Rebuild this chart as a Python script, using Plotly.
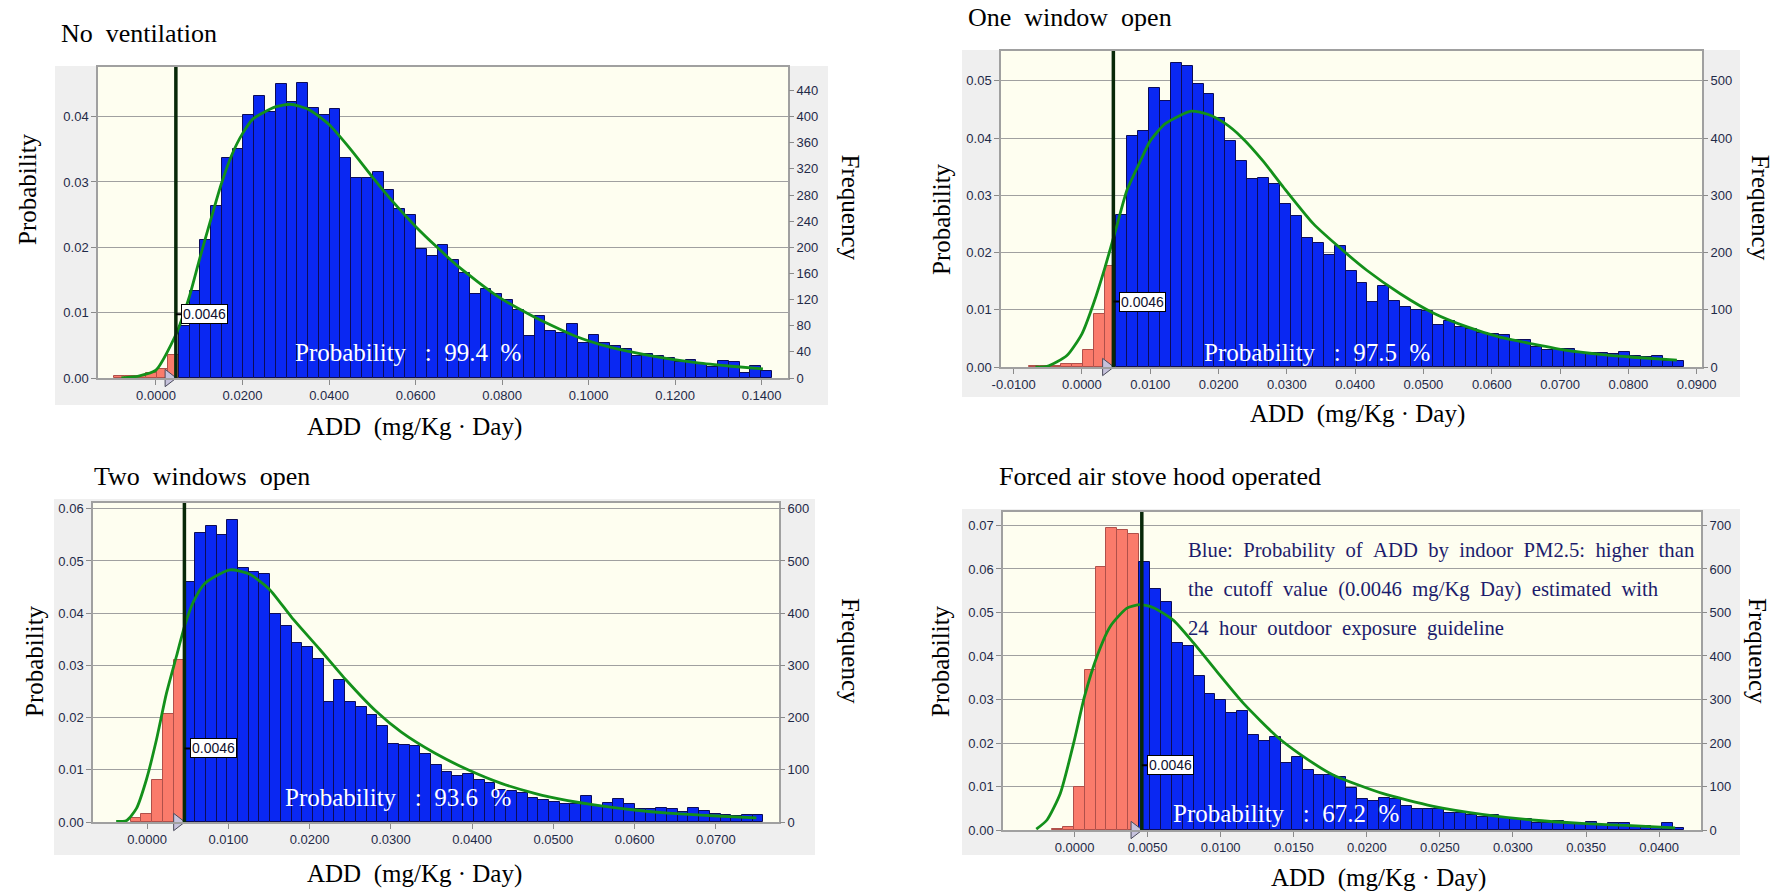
import plotly.graph_objects as go

W, H = 1778, 895
CUTOFF = 0.0046
CUTOFF_TEXT = "0.0046"
NB = "\u00a0"

# ---------------- data ----------------
titles = ["No" + NB * 2 + "ventilation", "One" + NB * 2 + "window" + NB * 2 + "open",
          "Two" + NB * 2 + "windows" + NB * 2 + "open", "Forced air stove hood operated"]
prob_above = ["99.4", "97.5", "93.6", "67.2"]

# Panel 1: No ventilation
p1_bin_start, p1_bin_width = -0.0097, 0.002493
p1_prob = [0.0003, 0.0003, 0.0003, 0.0007, 0.0014, 0.0035,
           0.0079, 0.0133, 0.0211, 0.0263, 0.0336, 0.0350, 0.0402, 0.0432, 0.0407, 0.0450,
           0.0422, 0.0452, 0.0413, 0.0403, 0.0411, 0.0337, 0.0306, 0.0306, 0.0315, 0.0287,
           0.0258, 0.0250, 0.0197, 0.0187, 0.0203, 0.0180, 0.0160, 0.0128, 0.0136, 0.0129,
           0.0119, 0.0104, 0.0065, 0.0095, 0.0072, 0.0069, 0.0083, 0.0054, 0.0066, 0.0053,
           0.0049, 0.0044, 0.0034, 0.0036, 0.0033, 0.0031, 0.0024, 0.0027, 0.0022, 0.0017,
           0.0026, 0.0024, 0.0008, 0.0018, 0.0011]
p1_curve_x = [-0.0080, -0.0040, 0.0000, 0.0045, 0.0077, 0.0102, 0.0126, 0.0151, 0.0175, 0.0200,
              0.0225, 0.0276, 0.0311, 0.0353, 0.0400, 0.0450, 0.0500, 0.0550, 0.0600, 0.0650,
              0.0700, 0.0790, 0.0870, 0.0970, 0.1045, 0.1145, 0.1253, 0.1330, 0.1403]
p1_curve_y = [0.0000, 0.0003, 0.0012, 0.0065, 0.0124, 0.0185, 0.0241, 0.0297, 0.0341, 0.0374,
              0.0397, 0.0415, 0.0419, 0.0411, 0.0388, 0.0350, 0.0308, 0.0268, 0.0232, 0.0200,
              0.0170, 0.0125, 0.0095, 0.0064, 0.0048, 0.0034, 0.0023, 0.0018, 0.0014]
p1_xtick_vals = [0.00, 0.02, 0.04, 0.06, 0.08, 0.10, 0.12, 0.14]
p1_xtick_text = ["0.0000", "0.0200", "0.0400", "0.0600", "0.0800", "0.1000", "0.1200", "0.1400"]

# Panel 2: One window open
p2_bin_start, p2_bin_width = -0.0078, 0.0016
p2_prob = [0.0002, 0.0001, 0.0001, 0.0005, 0.0006, 0.0030, 0.0093, 0.0177,
           0.0266, 0.0403, 0.0412, 0.0488, 0.0464, 0.0531, 0.0525, 0.0494, 0.0477, 0.0435,
           0.0394, 0.0359, 0.0329, 0.0331, 0.0319, 0.0285, 0.0263, 0.0226, 0.0216, 0.0195,
           0.0211, 0.0168, 0.0147, 0.0113, 0.0141, 0.0115, 0.0105, 0.0099, 0.0098, 0.0074,
           0.0080, 0.0070, 0.0066, 0.0059, 0.0058, 0.0056, 0.0048, 0.0048, 0.0035, 0.0029,
           0.0032, 0.0032, 0.0025, 0.0025, 0.0025, 0.0022, 0.0026, 0.0020, 0.0017, 0.0020,
           0.0010, 0.0010]
p2_curve_x = [-0.0068, -0.0051, -0.0022, 0.0000, 0.0017, 0.0034, 0.0050, 0.0066, 0.0086, 0.0100,
              0.0122, 0.0160, 0.0185, 0.0210, 0.0234, 0.0265, 0.0295, 0.0339, 0.0373, 0.0417,
              0.0466, 0.0515, 0.0564, 0.0612, 0.0661, 0.0710, 0.0759, 0.0807, 0.0871]
p2_curve_y = [0.0000, 0.0001, 0.0020, 0.0058, 0.0111, 0.0175, 0.0242, 0.0309, 0.0361, 0.0395,
              0.0425, 0.0447, 0.0441, 0.0425, 0.0401, 0.0360, 0.0314, 0.0250, 0.0213, 0.0169,
              0.0128, 0.0094, 0.0070, 0.0052, 0.0040, 0.0029, 0.0022, 0.0017, 0.0012]
p2_xtick_vals = [-0.01, 0.00, 0.01, 0.02, 0.03, 0.04, 0.05, 0.06, 0.07, 0.08, 0.09]
p2_xtick_text = ["-0.0100", "0.0000", "0.0100", "0.0200", "0.0300", "0.0400", "0.0500",
                 "0.0600", "0.0700", "0.0800", "0.0900"]

# Panel 3: Two windows open
p3_bin_start, p3_bin_width = -0.00201, 0.00132
p3_prob = [0.0008, 0.0016, 0.0080, 0.0206, 0.0310,
           0.0459, 0.0553, 0.0566, 0.0550, 0.0579, 0.0487, 0.0478, 0.0475, 0.0398, 0.0376,
           0.0342, 0.0336, 0.0312, 0.0229, 0.0272, 0.0229, 0.0221, 0.0205, 0.0184, 0.0149,
           0.0147, 0.0146, 0.0131, 0.0109, 0.0096, 0.0088, 0.0091, 0.0080, 0.0075, 0.0061,
           0.0059, 0.0056, 0.0046, 0.0043, 0.0038, 0.0035, 0.0035, 0.0050, 0.0030, 0.0037,
           0.0045, 0.0034, 0.0024, 0.0024, 0.0027, 0.0024, 0.0020, 0.0027, 0.0021, 0.0016,
           0.0014, 0.0012, 0.0014, 0.0014]
p3_curve_x = [-0.0038, -0.0025, -0.0013, -0.0001, 0.00115, 0.00238, 0.00361, 0.00464, 0.00566,
              0.0071, 0.0102, 0.0126, 0.0151, 0.0178, 0.0213, 0.0245, 0.0282, 0.0313, 0.0354,
              0.0395, 0.0436, 0.0477, 0.0518, 0.0559, 0.0600, 0.0641, 0.0682, 0.0723, 0.0750]
p3_curve_y = [0.0001, 0.0003, 0.0026, 0.0080, 0.0157, 0.0246, 0.0317, 0.0376, 0.0420,
              0.0457, 0.0483, 0.0475, 0.0445, 0.0392, 0.0330, 0.0272, 0.0212, 0.0172, 0.0132,
              0.0100, 0.0074, 0.0055, 0.0041, 0.0031, 0.0023, 0.0017, 0.0013, 0.0010, 0.0008]
p3_xtick_vals = [0.00, 0.01, 0.02, 0.03, 0.04, 0.05, 0.06, 0.07]
p3_xtick_text = ["0.0000", "0.0100", "0.0200", "0.0300", "0.0400", "0.0500", "0.0600", "0.0700"]

# Panel 4: Forced air stove hood operated
p4_bin_start, p4_bin_width = -0.00155, 0.000746
p4_prob = [0.0002, 0.0008, 0.0098, 0.0368, 0.0604, 0.0694, 0.0689, 0.0680,
           0.0617, 0.0555, 0.0524, 0.0429, 0.0424, 0.0355, 0.0313, 0.0299, 0.0268, 0.0273,
           0.0219, 0.0205, 0.0213, 0.0153, 0.0168, 0.0138, 0.0127, 0.0127, 0.0121, 0.0096,
           0.0071, 0.0067, 0.0073, 0.0071, 0.0056, 0.0048, 0.0048, 0.0049, 0.0040, 0.0038,
           0.0035, 0.0031, 0.0035, 0.0027, 0.0025, 0.0025, 0.0015, 0.0015, 0.0021, 0.0015,
           0.0014, 0.0018, 0.0012, 0.0015, 0.0015, 0.0009, 0.0009, 0.0008, 0.0015, 0.0004]
p4_curve_x = [-0.00262, -0.00189, -0.00098, -0.00007, 0.00068, 0.00153, 0.00244, 0.00358,
              0.00449, 0.0054, 0.00677, 0.00814, 0.00974, 0.01156, 0.01384, 0.01544, 0.01766,
              0.02107, 0.02448, 0.02789, 0.0313, 0.0347, 0.0381, 0.0411]
p4_curve_y = [0.0002, 0.0023, 0.0084, 0.0199, 0.0307, 0.0399, 0.0468, 0.0510, 0.0518, 0.0511,
              0.0482, 0.0430, 0.0364, 0.0291, 0.0215, 0.0174, 0.0127, 0.0084, 0.0055, 0.0036,
              0.0023, 0.0015, 0.0010, 0.0005]
p4_xtick_vals = [0.000, 0.005, 0.010, 0.015, 0.020, 0.025, 0.030, 0.035, 0.040]
p4_xtick_text = ["0.0000", "0.0050", "0.0100", "0.0150", "0.0200", "0.0250", "0.0300",
                 "0.0350", "0.0400"]

note_lines = ["Blue:" + NB * 2 + "Probability" + NB * 2 + "of" + NB * 2 + "ADD" + NB * 2 + "by" + NB * 2
              + "indoor" + NB * 2 + "PM2.5:" + NB * 2 + "higher" + NB * 2 + "than",
              "the" + NB * 2 + "cutoff" + NB * 2 + "value" + NB * 2 + "(0.0046" + NB * 2 + "mg/Kg" + NB * 2
              + "Day)" + NB * 2 + "estimated" + NB * 2 + "with",
              "24" + NB * 2 + "hour" + NB * 2 + "outdoor" + NB * 2 + "exposure" + NB * 2 + "guideline"]

FREQ_PER_PROB = 10000  # trials

# ---------------- layout (pixel geometry) ----------------
panels = [
    dict(bins=(p1_bin_start, p1_bin_width, p1_prob), curve=(p1_curve_x, p1_curve_y),
         xt=(p1_xtick_vals, p1_xtick_text), plot=(98, 67, 788, 378), gray=(55, 66, 828, 405),
         xr=(-0.0134, 0.1461), ymax=0.0476, fd=40, title=(59, 34), ylab=(27, 189),
         flab=(850, 207.5), xlab=(414, 427), ptxt=(293, 352), lab_y=0.00975),
    dict(bins=(p2_bin_start, p2_bin_width, p2_prob), curve=(p2_curve_x, p2_curve_y),
         xt=(p2_xtick_vals, p2_xtick_text), plot=(1001, 51, 1702, 367), gray=(962, 50, 1740, 397),
         xr=(-0.01185, 0.09078), ymax=0.0552, fd=100, title=(966, 18), ylab=(941, 219),
         flab=(1760, 207.7), xlab=(1357, 414), ptxt=(1201.7, 352), lab_y=0.01143),
    dict(bins=(p3_bin_start, p3_bin_width, p3_prob), curve=(p3_curve_x, p3_curve_y),
         xt=(p3_xtick_vals, p3_xtick_text), plot=(93, 503, 779, 822), gray=(54, 499, 815, 855),
         xr=(-0.00665, 0.07778), ymax=0.0611, fd=100, title=(91.7, 476.5), ylab=(34, 661),
         flab=(851, 651), xlab=(414, 873.5), ptxt=(283.3, 797), lab_y=0.0141),
    dict(bins=(p4_bin_start, p4_bin_width, p4_prob), curve=(p4_curve_x, p4_curve_y),
         xt=(p4_xtick_vals, p4_xtick_text), plot=(1003, 512, 1701, 830), gray=(962, 509, 1740, 855),
         xr=(-0.0049, 0.04287), ymax=0.0731, fd=100, title=(996.7, 476.5), ylab=(940, 661),
         flab=(1758, 651), xlab=(1378, 877.7), ptxt=(1170.7, 813.5), lab_y=0.01487),
]

SERIF = "Liberation Serif, Times New Roman, serif"
SANS = "Liberation Sans, Arial, sans-serif"
TICKC = "#1f2a48"
BLUE, BLUE_LINE = "#0a28f2", "#0c0c58"
RED, RED_LINE = "#fa7b6b", "#b0504a"
GREEN = "#13901a"
CUT_COLOR = "#082808"
GRID = "#a0a0a0"


def fx(px):
    return px / W


def fy(py):
    return 1 - py / H


fig = go.Figure()
layout = dict(width=W, height=H, margin=dict(l=0, r=0, t=0, b=0, pad=0), paper_bgcolor="white",
              plot_bgcolor="rgba(0,0,0,0)", showlegend=False, barmode="overlay", bargap=0,
              hovermode=False)
shapes, annotations = [], []

for i, p in enumerate(panels):
    n = i + 1
    xa = "x" if n == 1 else f"x{n}"
    ya = "y" if n == 1 else f"y{n}"
    yr = f"y{n + 4}"
    x0p, y0p, x1p, y1p = p["plot"]
    xr = p["xr"]
    ymax = p["ymax"]
    per_px = (xr[1] - xr[0]) / (x1p - x0p)

    # background panels
    g = p["gray"]
    shapes.append(dict(type="rect", xref="paper", yref="paper", x0=fx(g[0]), x1=fx(g[2]),
                       y0=fy(g[3]), y1=fy(g[1]), fillcolor="#efefef", line=dict(width=0),
                       layer="below"))
    shapes.append(dict(type="rect", xref="paper", yref="paper", x0=fx(x0p), x1=fx(x1p),
                       y0=fy(y1p), y1=fy(y0p), fillcolor="#fefef0", line=dict(width=0),
                       layer="below"))

    # histogram bars
    start, width, probs = p["bins"]
    centers = [start + width * (k + 0.5) for k in range(len(probs))]
    red_x = [c for c in centers if c < CUTOFF]
    red_y = [v for c, v in zip(centers, probs) if c < CUTOFF]
    blue_x = [c for c in centers if c >= CUTOFF]
    blue_y = [v for c, v in zip(centers, probs) if c >= CUTOFF]
    fig.add_trace(go.Bar(x=red_x, y=red_y, width=width, xaxis=xa, yaxis=ya,
                         marker=dict(color=RED, line=dict(color=RED_LINE, width=1))))
    fig.add_trace(go.Bar(x=blue_x, y=blue_y, width=width, xaxis=xa, yaxis=ya,
                         marker=dict(color=BLUE, line=dict(color=BLUE_LINE, width=1))))
    # fitted curve
    cx, cy = p["curve"]
    fig.add_trace(go.Scatter(x=cx, y=cy, mode="lines", xaxis=xa, yaxis=ya,
                             line=dict(color=GREEN, width=2.8, shape="spline", smoothing=0.6)))
    # frequency axis carrier (invisible)
    fig.add_trace(go.Scatter(x=[xr[0]], y=[0], mode="markers", xaxis=xa, yaxis=yr,
                             marker=dict(opacity=0), hoverinfo="skip"))
    # grabber triangles
    fig.add_trace(go.Scatter(x=[CUTOFF - 7 * per_px], y=[0], mode="markers", xaxis=xa, yaxis=ya,
                             cliponaxis=False,
                             marker=dict(symbol="triangle-right", size=15, color="#c6c2dc",
                                         line=dict(color="#4a4a5a", width=1))))
    fig.add_trace(go.Scatter(x=[xr[1] + 7.5 * per_px], y=[0], mode="markers", xaxis=xa, yaxis=ya,
                             cliponaxis=False,
                             marker=dict(symbol="triangle-left", size=15, color="#a0a0a0",
                                         line=dict(color="#3a3a3a", width=1))))

    # cutoff line
    shapes.append(dict(type="line", xref=xa, yref=f"{ya} domain", x0=CUTOFF, x1=CUTOFF,
                       y0=0, y1=1, line=dict(color=CUT_COLOR, width=3.5), layer="above"))

    tv, tt = p["xt"]
    axfont = dict(family=SANS, size=13, color=TICKC)
    layout[f"xaxis{'' if n == 1 else n}"] = dict(
        domain=[fx(x0p), fx(x1p)], anchor=ya, range=list(xr), tickvals=tv, ticktext=tt,
        ticks="outside", ticklen=5, tickcolor="#8a8a8a", showline=True, linecolor=GRID,
        linewidth=1.5, mirror=True, showgrid=False, zeroline=False, tickfont=axfont,
        fixedrange=True, automargin=False)
    layout[f"yaxis{'' if n == 1 else n}"] = dict(
        domain=[fy(y1p), fy(y0p)], anchor=xa, range=[0, ymax], dtick=0.01, tick0=0,
        tickformat=".2f", ticks="outside", ticklen=5, tickcolor="#8a8a8a", showline=True,
        linecolor=GRID, linewidth=1.5, mirror=True, showgrid=True, gridcolor=GRID,
        gridwidth=1.2, zeroline=False, tickfont=axfont, fixedrange=True, automargin=False)
    layout[f"yaxis{n + 4}"] = dict(
        overlaying=ya, side="right", anchor=xa, range=[0, ymax * FREQ_PER_PROB],
        dtick=p["fd"], tick0=0, ticks="outside", ticklen=5, tickcolor="#8a8a8a",
        showline=False, showgrid=False, zeroline=False, tickfont=axfont, fixedrange=True,
        automargin=False)

    # texts
    annotations.append(dict(text=titles[i], xref="paper", yref="paper", x=fx(p["title"][0]),
                            y=fy(p["title"][1]), xanchor="left", yanchor="middle",
                            showarrow=False, font=dict(family=SERIF, size=26, color="black")))
    annotations.append(dict(text="Probability", xref="paper", yref="paper", x=fx(p["ylab"][0]),
                            y=fy(p["ylab"][1]), xanchor="center", yanchor="middle", textangle=-90,
                            showarrow=False, font=dict(family=SERIF, size=25, color="black")))
    annotations.append(dict(text="Frequency", xref="paper", yref="paper", x=fx(p["flab"][0]),
                            y=fy(p["flab"][1]), xanchor="center", yanchor="middle", textangle=90,
                            showarrow=False, font=dict(family=SERIF, size=25, color="black")))
    annotations.append(dict(text="ADD" + NB * 2 + "(mg/Kg" + NB + "\u00b7" + NB + "Day)",
                            xref="paper", yref="paper", x=fx(p["xlab"][0]), y=fy(p["xlab"][1]),
                            xanchor="center", yanchor="middle", showarrow=False,
                            font=dict(family=SERIF, size=25, color="black")))
    annotations.append(dict(text="Probability" + NB * 3 + ":" + NB * 2 + prob_above[i] + NB * 2 + "%",
                            xref="paper", yref="paper", x=fx(p["ptxt"][0]), y=fy(p["ptxt"][1]),
                            xanchor="left", yanchor="middle", showarrow=False,
                            font=dict(family=SERIF, size=25, color="white")))
    annotations.append(dict(text=CUTOFF_TEXT, xref=xa, yref=ya, x=CUTOFF, y=p["lab_y"],
                            ax=29, ay=0, axref="pixel", ayref="pixel", showarrow=True,
                            arrowhead=0, arrowwidth=2, arrowcolor="black", bgcolor="white",
                            bordercolor="black", borderwidth=1, borderpad=1,
                            font=dict(family=SANS, size=14, color="#101030")))

# explanatory note in the last panel
note_y = [550, 589, 628]
for line, ly in zip(note_lines, note_y):
    annotations.append(dict(text=line, xref="paper", yref="paper", x=fx(1186), y=fy(ly),
                            xanchor="left", yanchor="middle", showarrow=False,
                            font=dict(family=SERIF, size=20.7, color="#1c1c6c")))

layout["shapes"] = shapes
layout["annotations"] = annotations
fig.update_layout(**layout)

fig.write_html("out.html", config={"displayModeBar": False},
               post_script="document.body.style.margin='0px';document.documentElement.style.overflow='hidden';")
